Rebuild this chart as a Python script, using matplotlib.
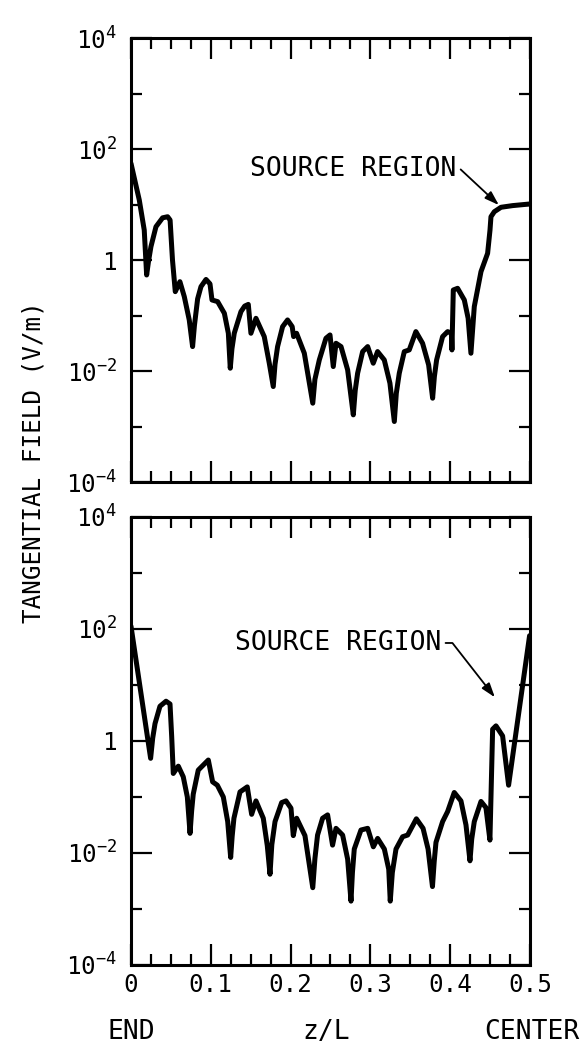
import numpy as np
import matplotlib
matplotlib.use("Agg")
import matplotlib.pyplot as plt
from matplotlib.ticker import FixedLocator, NullFormatter

# values: z/L and log10 of tangential field (V/m)
top_z = [0.0, 0.0104, 0.0166, 0.0196, 0.022, 0.025, 0.0313, 0.0396, 0.0459, 0.049, 0.052,
         0.0555, 0.0613, 0.0668, 0.073, 0.0772, 0.0795, 0.0835, 0.0877, 0.094, 0.099, 0.1015,
         0.1086, 0.117, 0.122, 0.1244, 0.1265, 0.1294, 0.1378, 0.1425, 0.147, 0.1503, 0.1566, 0.167,
         0.1733, 0.1783, 0.1805, 0.1837, 0.19, 0.1962, 0.202, 0.2038, 0.2075, 0.2172, 0.2278,
         0.2305, 0.236, 0.2443, 0.2494, 0.2535, 0.2569, 0.2632, 0.2715, 0.2786, 0.281, 0.284, 0.2903,
         0.2966, 0.3036, 0.309, 0.3174, 0.3245, 0.33, 0.3325, 0.3362, 0.3425, 0.3487, 0.357,
         0.3654, 0.373, 0.378, 0.3802, 0.383, 0.3905, 0.3968, 0.4015, 0.4022, 0.4039, 0.4093,
         0.4177, 0.4225, 0.426, 0.4302, 0.4386, 0.4469, 0.4499, 0.4511, 0.4553, 0.4637, 0.4782,
         0.5]
top_exp = [1.74, 1.08, 0.54, -0.27, -0.02, 0.24, 0.60, 0.76, 0.78, 0.72, 0.0,
           -0.57, -0.39, -0.66, -1.08, -1.56, -1.18, -0.70, -0.48, -0.35, -0.43, -0.72,
           -0.75, -0.96, -1.32, -1.95, -1.60, -1.32, -0.93, -0.83, -0.80, -1.32, -1.05, -1.38,
           -1.86, -2.28, -1.88, -1.56, -1.20, -1.08, -1.20, -1.38, -1.32, -1.68, -2.58,
           -2.15, -1.80, -1.41, -1.35, -1.92, -1.50, -1.56, -1.98, -2.79, -2.35, -2.04, -1.65,
           -1.56, -1.86, -1.65, -1.80, -2.22, -2.91, -2.40, -2.04, -1.65, -1.62, -1.29,
           -1.50, -1.89, -2.49, -2.10, -1.80, -1.38, -1.29, -1.32, -1.62, -0.54, -0.51,
           -0.72, -1.05, -1.68, -0.84, -0.21, 0.12, 0.54, 0.78, 0.87, 0.95, 0.98,
           1.01]

bot_z = [0.0, 0.0246, 0.0272, 0.0301, 0.0363, 0.0439, 0.0489, 0.051, 0.053, 0.0593, 0.0655,
         0.0706, 0.074, 0.076, 0.078, 0.0843, 0.0969, 0.1023, 0.1082, 0.1157, 0.1212, 0.1249,
         0.1268, 0.129, 0.1366, 0.1457, 0.1512, 0.1566, 0.1658, 0.1708, 0.1742, 0.1765, 0.1805, 0.1888,
         0.1942, 0.2005, 0.2034, 0.2076, 0.218, 0.2278, 0.2305, 0.2338, 0.2401, 0.2464, 0.2526,
         0.2569, 0.2652, 0.2715, 0.2757, 0.2775, 0.2798, 0.2882, 0.2966, 0.3037, 0.3091, 0.3175,
         0.323, 0.3249, 0.3275, 0.3321, 0.3404, 0.3467, 0.3576, 0.366, 0.3723, 0.3778, 0.3800, 0.3822,
         0.3905, 0.3968, 0.4051, 0.4135, 0.4198, 0.4248, 0.4270, 0.4302, 0.4386, 0.4448, 0.4498,
         0.4532, 0.4574, 0.4657, 0.4732, 0.4995]
bot_exp = [2.05, -0.31, 0.05, 0.31, 0.62, 0.71, 0.66, 0.08, -0.58, -0.45, -0.64,
           -1.0, -1.65, -1.25, -0.95, -0.52, -0.34, -0.73, -0.79, -1.0, -1.44, -2.08,
           -1.70, -1.38, -0.91, -0.82, -1.31, -1.07, -1.38, -1.87, -2.38, -1.85, -1.44, -1.10,
           -1.07, -1.20, -1.69, -1.38, -1.69, -2.62, -2.10, -1.68, -1.38, -1.32, -1.86,
           -1.56, -1.68, -2.11, -2.86, -2.35, -1.93, -1.59, -1.56, -1.89, -1.74, -1.93,
           -2.29, -2.86, -2.35, -1.93, -1.71, -1.68, -1.39, -1.56, -1.93, -2.60, -2.15, -1.81,
           -1.44, -1.26, -0.92, -1.07, -1.50, -2.14, -1.75, -1.44, -1.08, -1.19, -1.77,
           0.21, 0.27, 0.09, -0.79, 1.88]

ytick_vals = [1e-4, 1e-2, 1, 1e2, 1e4]
ytick_labels = [r'$\mathregular{10^{-4}}$', r'$\mathregular{10^{-2}}$', '1',
                r'$\mathregular{10^{2}}$', r'$\mathregular{10^{4}}$']
xtick_vals = [0, 0.1, 0.2, 0.3, 0.4, 0.5]
xtick_labels = ['0', '0.1', '0.2', '0.3', '0.4', '0.5']

plt.rcParams['font.family'] = ['DejaVu Sans Mono']
plt.rcParams['font.size'] = 17.5

fig = plt.figure(figsize=(5.84, 10.44), dpi=100)
ax1 = fig.add_axes([0.2243, 0.5383, 0.6832, 0.4253])
ax2 = fig.add_axes([0.2243, 0.0757, 0.6832, 0.4291])


def style(ax):
    ax.set_yscale('log')
    ax.set_xlim(0, 0.5)
    ax.set_ylim(1e-4, 1e4)
    ax.set_yticks(ytick_vals)
    ax.set_yticklabels(ytick_labels)
    ax.yaxis.set_minor_locator(FixedLocator([1e-3, 1e-1, 1e1, 1e3]))
    ax.yaxis.set_minor_formatter(NullFormatter())
    ax.set_xticks(xtick_vals)
    ax.set_xticklabels(xtick_labels)
    ax.xaxis.set_minor_locator(FixedLocator(np.arange(0, 0.5001, 0.025)))
    ax.tick_params(which='both', direction='in', top=True, right=True, width=1.6)
    ax.tick_params(which='major', length=15)
    ax.tick_params(which='minor', length=8)
    ax.tick_params(axis='y', pad=10)
    ax.tick_params(axis='x', pad=6)
    for s in ax.spines.values():
        s.set_linewidth(2.2)


style(ax1)
style(ax2)
ax1.tick_params(labelbottom=False)

ax1.plot(top_z, 10 ** np.array(top_exp), color='black', lw=3.6,
         solid_joinstyle='round', solid_capstyle='round')
ax2.plot(bot_z, 10 ** np.array(bot_exp), color='black', lw=3.6,
         solid_joinstyle='round', solid_capstyle='round')

arrow = dict(arrowstyle='-|>,head_length=0.45,head_width=0.15', color='black', lw=1.3,
             relpos=(1, 0.5), shrinkA=1, shrinkB=0)
ax1.annotate('SOURCE REGION', xy=(0.461, 10 ** 0.99), xytext=(0.408, 10 ** 1.64),
             ha='right', va='center', fontsize=19,
             arrowprops=dict(arrow, connectionstyle='angle,angleA=0,angleB=-43,rad=0'))
ax2.annotate('SOURCE REGION', xy=(0.456, 10 ** 0.78), xytext=(0.389, 10 ** 1.75),
             ha='right', va='center', fontsize=19,
             arrowprops=dict(arrow, connectionstyle='angle,angleA=0,angleB=-52,rad=0'))

fig.text(0.058, 1 - 462 / 1044, 'TANGENTIAL FIELD (V/m)', rotation=90,
         ha='center', va='center')

tr = ax2.get_xaxis_transform()
ax2.text(0.0, -0.15, 'END', transform=tr, ha='center', va='center', fontsize=19)
ax2.text(0.245, -0.15, 'z/L', transform=tr, ha='center', va='center', fontsize=19)
ax2.text(0.503, -0.15, 'CENTER', transform=tr, ha='center', va='center', fontsize=19)

fig.savefig('out.png', dpi=100)
